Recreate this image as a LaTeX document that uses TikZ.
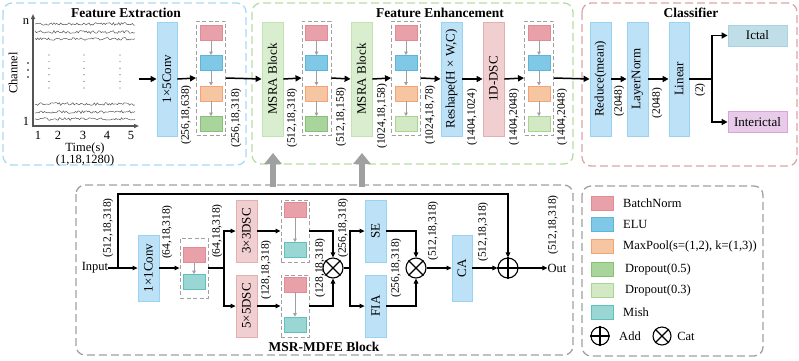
\documentclass[tikz,border=0pt]{standalone}
\usepackage{fontspec}
\setmainfont{Liberation Serif}
\usetikzlibrary{arrows.meta}
\definecolor{bnF}{HTML}{E8A1A8}\definecolor{bnD}{HTML}{E38A94}
\definecolor{eluF}{HTML}{7FC9E6}\definecolor{eluD}{HTML}{5DB5DE}
\definecolor{mpF}{HTML}{F6C6A2}\definecolor{mpD}{HTML}{F2A474}
\definecolor{dfF}{HTML}{A9D49B}\definecolor{dfD}{HTML}{86C175}
\definecolor{dtF}{HTML}{D3E9C5}\definecolor{dtD}{HTML}{A9D68F}
\definecolor{miF}{HTML}{9AD6D3}\definecolor{miD}{HTML}{5FC1BC}
\definecolor{boxF}{HTML}{BDE2F7}\definecolor{boxD}{HTML}{9AD2F1}
\definecolor{msF}{HTML}{D9EECF}\definecolor{msD}{HTML}{C2E2B2}
\definecolor{dsF}{HTML}{F1CFD0}\definecolor{dsD}{HTML}{E3B0B2}
\definecolor{icF}{HTML}{C0DEE8}\definecolor{icD}{HTML}{A9D3E0}
\definecolor{inF}{HTML}{E8CBE8}\definecolor{inD}{HTML}{D9A5D9}
\definecolor{pBlue}{HTML}{A9D9F2}\definecolor{pGreen}{HTML}{B5DDA0}
\definecolor{pRed}{HTML}{DBA6A6}\definecolor{pGray}{HTML}{A0A0A0}
\definecolor{axisC}{HTML}{555555}
\newcommand\fdim{\fontsize{11.5}{12}\selectfont}
\newcommand\fbx{\fontsize{13}{14}\selectfont}
\newcommand\ftitle{\fontsize{13.5}{15}\selectfont\bfseries}
\newcommand{\stackfour}[3]{%
 \node[sbox] (#1) at (#2,78) {};
 \node[sw, fill=bnF, draw=bnD] (#1a) at (#2,32.5) {};
 \node[sw, fill=eluF, draw=eluD] (#1b) at (#2,63) {};
 \node[sw, fill=mpF, draw=mpD] (#1c) at (#2,93.5) {};
 \node[sw, #3] (#1d) at (#2,124) {};
 \draw[garr] (#1a) -- (#1b);
 \draw[garr] (#1b) -- (#1c);
 \draw[garr] (#1c) -- (#1d);
}
\begin{document}
\begin{tikzpicture}[x=1pt,y=-1pt,
 bigbox/.style={draw=boxD, fill=boxF, line width=0.8pt, minimum width=21pt, minimum height=114pt, inner sep=0pt},
 msbox/.style={bigbox, draw=msD, fill=msF},
 dsbox/.style={bigbox, draw=dsD, fill=dsF},
 sbox/.style={draw=pGray, dashed, dash pattern=on 4pt off 2.5pt, line width=0.9pt, minimum width=29pt, minimum height=114pt, inner sep=0pt},
 sw/.style={minimum width=22pt, minimum height=15pt, inner sep=0pt, line width=0.7pt},
 garr/.style={draw=gray!75, line width=0.8pt, -{Triangle[length=3.5pt,width=3.5pt]}},
 arr/.style={line width=1.5pt, -{Triangle[length=6pt,width=6pt]}},
 marr/.style={line width=1.1pt, -{Triangle[length=5pt,width=4.5pt]}},
 mline/.style={line width=1.1pt},
 dim/.style={rotate=90, font=\fdim, inner sep=0pt},
 btxt/.style={rotate=90, font=\fbx, inner sep=0pt},
 txt/.style={font=\fbx, inner sep=0pt},
 ltxt/.style={font=\fontsize{12.5}{13}\selectfont, inner sep=0pt},
 panel/.style={dash pattern=on 8pt off 4pt, line width=1.3pt, rounded corners=9pt},
 op/.style={circle, draw, line width=1.1pt, minimum size=20pt, inner sep=0pt},
 eeg/.style={draw=axisC, line width=0.5pt},
 axis/.style={draw=axisC, line width=1.5pt, -{Triangle[length=5pt,width=4pt]}},
 grayarr/.style={draw=pGray, line width=6pt, -{Triangle[length=11pt,width=17pt]}}
]
\useasboundingbox (0,0) rectangle (799,360);
% panels
\draw[panel, draw=pBlue] (3,3) rectangle (246,165);
\draw[panel, draw=pGreen] (252,3) rectangle (573,164);
\draw[panel, draw=pRed] (582,3) rectangle (797,166);
\draw[panel, draw=pGray] (76,185) rectangle (573,355);
\draw[panel, draw=pGray] (582,186) rectangle (763,356);
\node[font=\ftitle] (t1) at (126,13) {Feature Extraction};
\node[font=\ftitle] (t2) at (440,13) {Feature Enhancement};
\node[font=\ftitle] (t3) at (691,13) {Classifier};
\node[font=\ftitle] (t4) at (324,347) {MSR-MDFE Block};
% EEG plot
\pgfmathsetseed{11}
\foreach \yy in {24,32,39,104,112,119}{
 \draw[eeg] plot[domain=35:135, samples=75] (\x,{\yy+1.4*rand});
}
\foreach \xx in {49,84,120}{
 \foreach \yy in {55,61.6,68.2,74.8,81.4,88}{
  \fill[axisC] (\xx,\yy) circle (0.6);
 }
}
\foreach \yy in {63,70,77}{
 \fill[black] (28,\yy) circle (0.8);
}
\coordinate (yo) at (33,127);
\coordinate (yt) at (33,14);
\coordinate (xo) at (32,126);
\coordinate (xt) at (139,126);
\draw[axis] (yo) -- (yt);
\draw[axis] (xo) -- (xt);
\node[ltxt] (ln) at (26,22) {n};
\node[ltxt] (l1) at (26,121) {1};
\node[ltxt, rotate=90] (chan) at (13,73) {Channel};
\node[ltxt] (x1) at (38,135) {1};
\node[ltxt] (x2) at (58,135) {2};
\node[ltxt] (x3) at (83,135) {3};
\node[ltxt] (x4) at (107,135) {4};
\node[ltxt] (x5) at (131,135) {5};
\node[ltxt] (tim) at (85,148) {Time(s)};
\node[ltxt] (tsz) at (85,160) {(1,18,1280)};
% main row
\coordinate (eegout) at (139,79);
\node[bigbox, minimum width=20pt] (conv) at (167,79) {};
\node[btxt] (convt) at (conv) {1×5Conv};
\stackfour{sa}{211}{fill=dfF, draw=dfD}
\node[msbox] (msra1) at (272.5,79) {};
\node[btxt] (msra1t) at (msra1) {MSRA Block};
\stackfour{sb}{316.5}{fill=dfF, draw=dfD}
\node[msbox] (msra2) at (361.5,79) {};
\node[btxt] (msra2t) at (msra2) {MSRA Block};
\stackfour{sc}{406}{fill=dtF, draw=dtD}
\node[bigbox] (resh) at (451.5,79) {};
\node[btxt] (resht) at (resh) {Reshape(H × W,C)};
\node[dsbox] (dsc1) at (493.5,79) {};
\node[btxt] (dsc1t) at (dsc1) {1D-DSC};
\stackfour{sd}{539}{fill=dtF, draw=dtD}
\node[bigbox] (red) at (600.5,79) {};
\node[btxt] (redt) at (red) {Reduce(mean)};
\node[bigbox] (lnorm) at (637.5,79) {};
\node[btxt] (lnormt) at (lnorm) {LayerNorm};
\node[bigbox, minimum width=20pt] (lin) at (679,79) {};
\node[btxt] (lint) at (lin) {Linear};
\node[draw=icD, fill=icF, line width=0.8pt, minimum width=59pt, minimum height=21pt, font=\fbx] (ictal) at (757.5,35.5) {Ictal};
\node[draw=inD, fill=inF, line width=0.8pt, minimum width=59pt, minimum height=21pt, font=\fbx] (inter) at (757.5,122) {Interictal};
\draw[arr] (eegout) -- (conv.west);
\draw[arr] (conv.east) -- (sa.west);
\draw[arr] (sa.east) -- (msra1.west);
\draw[arr] (msra1.east) -- (sb.west);
\draw[arr] (sb.east) -- (msra2.west);
\draw[arr] (msra2.east) -- (sc.west);
\draw[arr] (sc.east) -- (resh.west);
\draw[arr] (resh.east) -- (dsc1.west);
\draw[arr] (dsc1.east) -- (sd.west);
\draw[arr] (sd.east) -- (red.west);
\draw[arr] (red.east) -- (lnorm.west);
\draw[arr] (lnorm.east) -- (lin.west);
\coordinate (spl) at (712,79);
\draw[line width=1.5pt] (lin.east) -- (spl);
\draw[arr] (spl) |- (ictal.west);
\draw[arr] (spl) |- (inter.west);
\node[dim] (d1) at (186,115) {(256,18,638)};
\node[dim] (d2) at (236,118) {(256,18,318)};
\node[dim] (d3) at (292,118) {(512,18,318)};
\node[dim] (d4) at (341,117) {(512,18,158)};
\node[dim] (d5) at (382,116) {(1024,18,158)};
\node[dim] (d6) at (430,115) {(1024,18,78)};
\node[dim] (d7) at (472,117) {(1404,1024)};
\node[dim] (d8) at (514,117) {(1404,2048)};
\node[dim] (d9) at (562,117) {(1404,2048)};
\node[dim] (d10) at (619,101) {(2048)};
\node[dim] (d11) at (657,103) {(2048)};
\node[dim] (d12) at (700,90) {(2)};
% gray arrows
\coordinate (g1a) at (273,187); \coordinate (g1b) at (273,153);
\coordinate (g2a) at (362,187); \coordinate (g2b) at (362,153);
\draw[grayarr] (g1a) -- (g1b);
\draw[grayarr] (g2a) -- (g2b);
% MSR-MDFE block
\node[ltxt] (inp) at (95,268) {Input};
\node[bigbox, minimum height=66pt] (c11) at (148.5,268) {};
\node[btxt] (c11t) at (c11) {1×1Conv};
\node[sbox, minimum width=28pt, minimum height=60pt] (m1) at (194,268) {};
\node[sw, fill=bnF, draw=bnD] (m1a) at (194,255) {};
\node[sw, fill=miF, draw=miD] (m1b) at (194,282) {};
\draw[garr] (m1a) -- (m1b);
\node[dsbox, minimum height=62pt] (d33) at (246.5,231) {};
\node[btxt] (d33t) at (d33) {3×3DSC};
\node[dsbox, minimum height=62pt] (d55) at (246.5,306) {};
\node[btxt] (d55t) at (d55) {5×5DSC};
\node[sbox, minimum width=28pt, minimum height=62pt] (mu) at (295,231) {};
\node[sw, fill=bnF, draw=bnD] (mua) at (295,210) {};
\node[sw, fill=miF, draw=miD] (mub) at (295,250) {};
\draw[garr] (mua) -- (mub);
\node[sbox, minimum width=28pt, minimum height=62pt] (ml) at (295,306) {};
\node[sw, fill=bnF, draw=bnD] (mla) at (295,284.5) {};
\node[sw, fill=miF, draw=miD] (mlb) at (295,324.5) {};
\draw[garr] (mla) -- (mlb);
\node[op] (cat1) at (333,268) {};
\draw[mline] (cat1.north east) -- (cat1.south west) (cat1.north west) -- (cat1.south east);
\node[bigbox, minimum height=62pt] (se) at (375.5,231) {};
\node[btxt] (set) at (se) {SE};
\node[bigbox, minimum height=62pt] (fia) at (375.5,306) {};
\node[btxt] (fiat) at (fia) {FIA};
\node[op] (cat2) at (416,268) {};
\draw[mline] (cat2.north east) -- (cat2.south west) (cat2.north west) -- (cat2.south east);
\node[bigbox, minimum width=20pt, minimum height=66pt] (ca) at (462,268) {};
\node[btxt] (cat) at (ca) {CA};
\node[op] (add) at (508,268) {};
\draw[mline] (add.north) -- (add.south) (add.west) -- (add.east);
\node[ltxt] (out) at (557,268) {Out};
% MSR connectors
\coordinate (skip) at (118,268);
\coordinate (skiptop) at (118,194);
\draw[marr] (inp.east) -- (c11.west);
\draw[marr] (skip) -- (skiptop) -| (add.north);
\draw[marr] (c11.east) -- (m1.west);
\coordinate (sp1) at (224,268);
\draw[mline] (m1.east) -- (sp1);
\draw[marr] (sp1) |- (d33.west);
\draw[marr] (sp1) |- (d55.west);
\draw[marr] (d33.east) -- (mu.west);
\draw[marr] (d55.east) -- (ml.west);
\draw[marr] (mu.east) -| (cat1.north);
\draw[marr] (ml.east) -| (cat1.south);
\coordinate (sp2) at (350,268);
\draw[mline] (cat1.east) -- (sp2);
\draw[marr] (sp2) |- (se.west);
\draw[marr] (sp2) |- (fia.west);
\draw[marr] (se.east) -| (cat2.north);
\draw[marr] (fia.east) -| (cat2.south);
\draw[marr] (cat2.east) -- (ca.west);
\draw[marr] (ca.east) -- (add.west);
\draw[marr] (add.east) -- (out.west);
% MSR labels
\node[dim] (e1) at (108,228) {(512,18,318)};
\node[dim] (e2) at (167,232) {(64,18,318)};
\node[dim] (e3) at (217,231) {(64,18,318)};
\node[dim] (e4) at (266,270) {(128,18,318)};
\node[dim] (e5) at (320,268) {(128,18,318)};
\node[dim] (e6) at (343,228) {(256,18,318)};
\node[dim] (e7) at (396,268) {(256,18,318)};
\node[dim] (e8) at (433,231) {(512,18,318)};
\node[dim] (e9) at (483,232) {(512,18,318)};
\node[dim] (e10) at (553,225) {(512,18,318)};
% legend
\node[sw, fill=bnF, draw=bnD, minimum height=14pt] (lg1) at (602,203) {};
\node[sw, fill=eluF, draw=eluD, minimum height=14pt] (lg2) at (602,224.5) {};
\node[sw, fill=mpF, draw=mpD, minimum height=14pt] (lg3) at (602,246) {};
\node[sw, fill=dfF, draw=dfD, minimum height=14pt] (lg4) at (602,269.5) {};
\node[sw, fill=dtF, draw=dtD, minimum height=14pt] (lg5) at (602,290.5) {};
\node[sw, fill=miF, draw=miD, minimum height=14pt] (lg6) at (602,312.5) {};
\node[ltxt, anchor=west] (lt1) at (623,203) {BatchNorm};
\node[ltxt, anchor=west] (lt2) at (623,224.5) {ELU};
\node[ltxt, anchor=west] (lt3) at (623,246) {MaxPool(s=(1,2), k=(1,3))};
\node[ltxt, anchor=west] (lt4) at (625,269.5) {Dropout(0.5)};
\node[ltxt, anchor=west] (lt5) at (625,290.5) {Dropout(0.3)};
\node[ltxt, anchor=west] (lt6) at (623,312.5) {Mish};
\node[op, minimum size=18pt] (ladd) at (600,336) {};
\draw[mline] (ladd.north) -- (ladd.south) (ladd.west) -- (ladd.east);
\node[ltxt] (ladt) at (630,336) {Add};
\node[op, minimum size=18pt] (lcat) at (662,336) {};
\draw[mline] (lcat.north east) -- (lcat.south west) (lcat.north west) -- (lcat.south east);
\node[ltxt] (lcatt) at (686,336) {Cat};
\end{tikzpicture}
\end{document}
